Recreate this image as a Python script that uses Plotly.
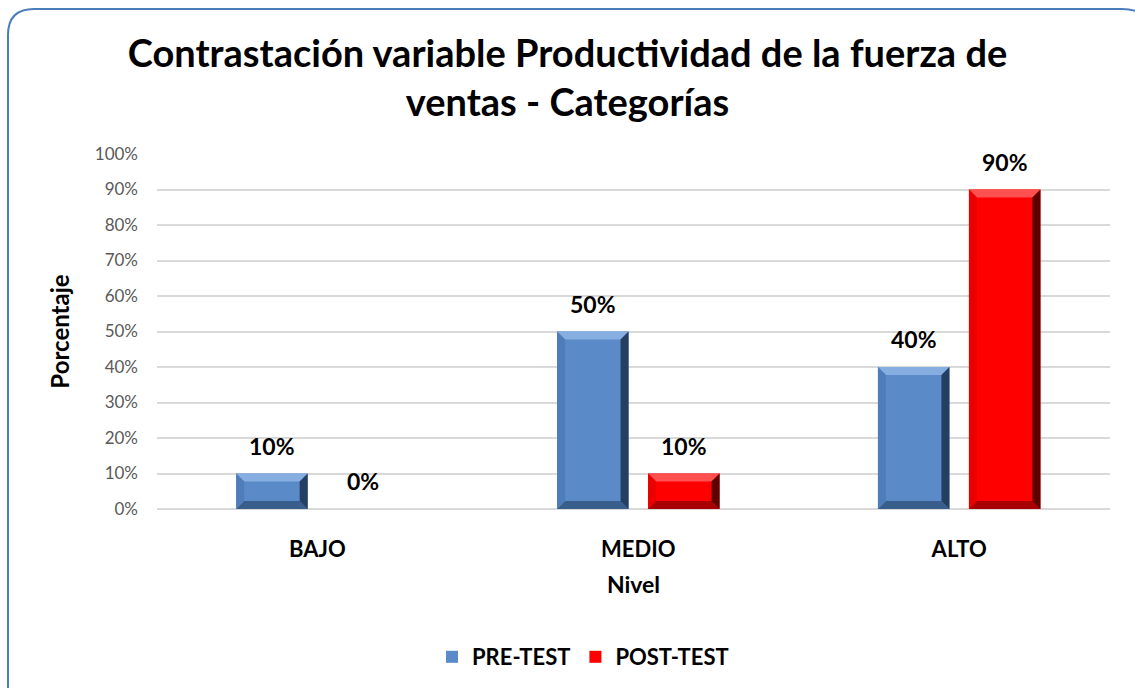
import plotly.graph_objects as go

# Chart data
niveles = ["BAJO", "MEDIO", "ALTO"]
pre_test = [0.10, 0.50, 0.40]
post_test = [0.00, 0.10, 0.90]
y_ticks = [0.0, 0.1, 0.2, 0.3, 0.4, 0.5, 0.6, 0.7, 0.8, 0.9, 1.0]

FONT = "Lato"
W, H = 1135, 688
M_L, M_R, M_T, M_B = 157, 25, 154, 179
PLOT_W = W - M_L - M_R
PLOT_H = H - M_T - M_B
X_RANGE = [-0.5, 2.47]
Y_RANGE = [0.0, 1.0]

px_per_x = PLOT_W / (X_RANGE[1] - X_RANGE[0])
px_per_y = PLOT_H / (Y_RANGE[1] - Y_RANGE[0])

bar_w = 71.5 / px_per_x
half_sep = 45.5 / px_per_x
offsets = {"pre": -half_sep - bar_w / 2, "post": half_sep - bar_w / 2}

series = [
    dict(name="PRE-TEST", values=pre_test, key="pre",
         face="#5A8AC8", top="#86AEE0", left="#4E7DBA", right="#243F62", bottom="#3A5E8C"),
    dict(name="POST-TEST", values=post_test, key="post",
         face="#FF0000", top="#FF5050", left="#EA0000", right="#5C0000", bottom="#A80000"),
]

fig = go.Figure()
shapes = []
annotations = []

bev_x = 8 / px_per_x
bev_y = 8 / px_per_y

for s in series:
    fig.add_trace(go.Bar(
        name=f"<b>{s['name']}</b>", x=list(range(len(niveles))), y=s["values"],
        width=bar_w, offset=offsets[s["key"]],
        marker=dict(color=s["face"], line=dict(width=0)),
        hoverinfo="skip",
    ))
    for i, v in enumerate(s["values"]):
        x0 = i + offsets[s["key"]]
        x1 = x0 + bar_w
        cx = (x0 + x1) / 2
        annotations.append(dict(
            x=cx, y=v, xref="x", yref="y", text=f"<b>{round(v * 100)}%</b>",
            showarrow=False, yanchor="bottom", yshift=12,
            font=dict(family=FONT, size=23, color="#000000"),
        ))
        if v <= 0:
            continue
        # bevel edges: trapezoids between the bar outline and an inset rectangle
        dy = min(bev_y, v / 3)
        ix0, ix1 = x0 + bev_x, x1 - bev_x
        iy0, iy1 = dy, v - dy
        edges = [
            (s["top"], [(x0, v), (x1, v), (ix1, iy1), (ix0, iy1)]),
            (s["bottom"], [(x0, 0), (x1, 0), (ix1, iy0), (ix0, iy0)]),
            (s["left"], [(x0, 0), (x0, v), (ix0, iy1), (ix0, iy0)]),
            (s["right"], [(x1, 0), (x1, v), (ix1, iy1), (ix1, iy0)]),
        ]
        for color, pts in edges:
            path = "M " + " L ".join(f"{px},{py}" for px, py in pts) + " Z"
            shapes.append(dict(type="path", path=path, xref="x", yref="y",
                               fillcolor=color, line=dict(width=0), layer="above"))


def to_paper(px, py):
    return (px - M_L) / PLOT_W, (H - M_B - py) / PLOT_H


# rounded frame around the chart (only left and top edges in view)
r = 26
pts = {
    "a": to_paper(8, 720),
    "b": to_paper(8, 9 + r),
    "c": to_paper(8, 9),
    "d": to_paper(8 + r, 9),
    "e": to_paper(1122, 9),
    "f": to_paper(1140, 9),
    "g": to_paper(1150, 20),
}
frame = (f"M {pts['a'][0]},{pts['a'][1]} L {pts['b'][0]},{pts['b'][1]} "
         f"Q {pts['c'][0]},{pts['c'][1]} {pts['d'][0]},{pts['d'][1]} "
         f"L {pts['e'][0]},{pts['e'][1]} "
         f"Q {pts['f'][0]},{pts['f'][1]} {pts['g'][0]},{pts['g'][1]}")
shapes.append(dict(type="path", path=frame, xref="paper", yref="paper",
                   line=dict(color="#4A7EBB", width=2), layer="above"))

fig.update_layout(
    width=W, height=H,
    margin=dict(l=M_L, r=M_R, t=M_T, b=M_B, autoexpand=False),
    paper_bgcolor="#FFFFFF", plot_bgcolor="#FFFFFF",
    barmode="overlay",
    title=dict(
        text="<b>Contrastación variable Productividad de la fuerza de<br>ventas - Categorías</b>",
        x=0.5, xanchor="center", y=1 - 66.5 / H, yanchor="middle",
        font=dict(family=FONT, size=38, color="#000000"),
    ),
    xaxis=dict(
        range=X_RANGE, tickmode="array", tickvals=list(range(len(niveles))),
        ticktext=[f"<b>{n}</b>" for n in niveles],
        tickfont=dict(family=FONT, size=22, color="#000000"),
        ticklabelstandoff=25, showgrid=False, zeroline=False, showline=False,
        title=dict(text="<b>Nivel</b>", font=dict(family=FONT, size=23, color="#000000"),
                   standoff=15),
        fixedrange=True,
    ),
    yaxis=dict(
        range=Y_RANGE, tickmode="array", tickvals=y_ticks, tickformat=".0%",
        tickfont=dict(family=FONT, size=17, color="#595959"),
        ticklabelstandoff=18, showgrid=True, gridcolor="#D9D9D9", gridwidth=2,
        zeroline=True, zerolinecolor="#D9D9D9", zerolinewidth=2, showline=False,
        title=dict(text="<b>Porcentaje</b>", font=dict(family=FONT, size=24, color="#000000"),
                   standoff=18),
        fixedrange=True,
    ),
    legend=dict(
        orientation="h", x=(583 - M_L) / PLOT_W, xanchor="center",
        y=(H - M_B - 657) / PLOT_H, yanchor="middle",
        font=dict(family=FONT, size=22, color="#000000"),
        itemsizing="constant", traceorder="normal",
    ),
    shapes=shapes,
    annotations=annotations,
    showlegend=True,
)

fig.write_html("out.html")
